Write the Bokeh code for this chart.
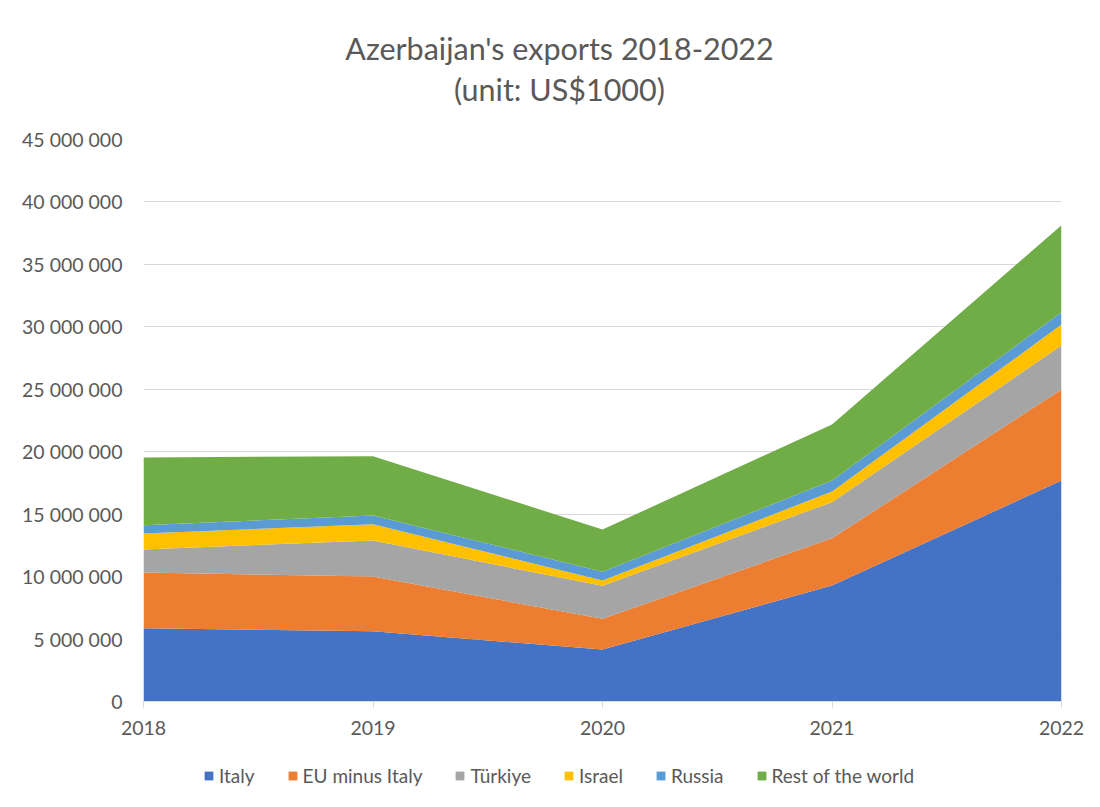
from bokeh.plotting import figure
from bokeh.layouts import column
from bokeh.models import ColumnDataSource, Range1d, FixedTicker, SingleIntervalTicker, CustomJSTickFormatter, Label, Legend
from bokeh.embed import file_html
from bokeh.resources import INLINE

years = [2018, 2019, 2020, 2021, 2022]
italy = [5870000, 5630000, 4160000, 9290000, 17690000]
eu_minus_italy = [4460000, 4370000, 2460000, 3780000, 7290000]
turkiye = [1840000, 2900000, 2640000, 2890000, 3520000]
israel = [1280000, 1300000, 430000, 850000, 1680000]
russia = [670000, 700000, 690000, 880000, 990000]
rest_of_world = [5420000, 4740000, 3390000, 4490000, 6960000]

series_names = ["Italy", "EU minus Italy", "Türkiye", "Israel", "Russia", "Rest of the world"]
colors = ["#4472C4", "#ED7D31", "#A5A5A5", "#FFC000", "#5B9BD5", "#70AD47"]
title_lines = ["Azerbaijan's exports 2018-2022", "(unit: US$1000)"]

source = ColumnDataSource(dict(
    year=years,
    s0=italy, s1=eu_minus_italy, s2=turkiye, s3=israel, s4=russia, s5=rest_of_world,
))
keys = ["s0", "s1", "s2", "s3", "s4", "s5"]

FONT = "Lato"
TXT = "#595959"

# title strip
tt = figure(width=1084, height=127, output_backend="svg", toolbar_location=None,
            x_range=Range1d(0, 1), y_range=Range1d(0, 1), min_border=0)
tt.axis.visible = False
tt.grid.visible = False
tt.outline_line_color = None
for txt, ypos in zip(title_lines, [80, 39]):
    tt.add_layout(Label(x=416, y=ypos, x_units="screen", y_units="screen", text=txt,
                        text_align="center", text_baseline="middle", text_font=FONT,
                        text_font_size="30.5px", text_color=TXT))

p = figure(frame_width=918, frame_height=562, output_backend="svg", toolbar_location=None,
           x_range=Range1d(2018, 2022), y_range=Range1d(0, 45000000),
           min_border_left=143, min_border_right=23, min_border_top=12, min_border_bottom=40,
           title=None)

renderers = p.varea_stack(stackers=keys, x="year", color=colors, source=source)

p.xaxis.ticker = FixedTicker(ticks=years)
p.xaxis.axis_line_color = "#D9D9D9"
p.xaxis.major_tick_line_color = "#D9D9D9"
p.xaxis.major_tick_out = 6
p.xaxis.major_tick_in = 0
p.xaxis.minor_tick_line_color = None
p.xaxis.major_label_text_font = FONT
p.xaxis.major_label_text_font_size = "19.5px"
p.xaxis.major_label_text_color = TXT
p.xaxis.major_label_standoff = 13

p.yaxis.ticker = SingleIntervalTicker(interval=5000000)
p.yaxis.formatter = CustomJSTickFormatter(code="return Math.round(tick).toString().replace(/\\B(?=(\\d{3})+(?!\\d))/g, ' ');")
p.yaxis.axis_line_color = None
p.yaxis.major_tick_line_color = None
p.yaxis.minor_tick_line_color = None
p.yaxis.major_label_text_font = FONT
p.yaxis.major_label_text_font_size = "19.5px"
p.yaxis.major_label_text_color = TXT
p.yaxis.major_label_standoff = 15

p.xgrid.grid_line_color = None
p.ygrid.grid_line_color = "#D9D9D9"
p.ygrid.level = "underlay"
p.outline_line_color = None
p.border_fill_color = "white"

# legend strip below the chart (zero-area placeholders carry the legend swatches)
lg = figure(width=1084, height=50, output_backend="svg", toolbar_location=None,
            x_range=Range1d(0, 1), y_range=Range1d(0, 1), min_border=0)
lg.axis.visible = False
lg.grid.visible = False
lg.outline_line_color = None
dummy = [lg.varea(x=[0, 1], y1=[0, 0], y2=[0, 0], color=c) for c in colors]
legend = Legend(items=[(n, [r]) for n, r in zip(series_names, dummy)],
                orientation="horizontal", location=(60, 4))
legend.label_text_font = FONT
legend.label_text_font_size = "19px"
legend.label_text_color = TXT
legend.glyph_width = 11
legend.glyph_height = 11
legend.spacing = 32
legend.label_standoff = 5
legend.border_line_color = None
legend.background_fill_alpha = 0
legend.padding = 4
legend.margin = 0
lg.add_layout(legend, "center")

layout = column(tt, p, lg, spacing=0)
open("out.html", "w").write(file_html(layout, INLINE))
